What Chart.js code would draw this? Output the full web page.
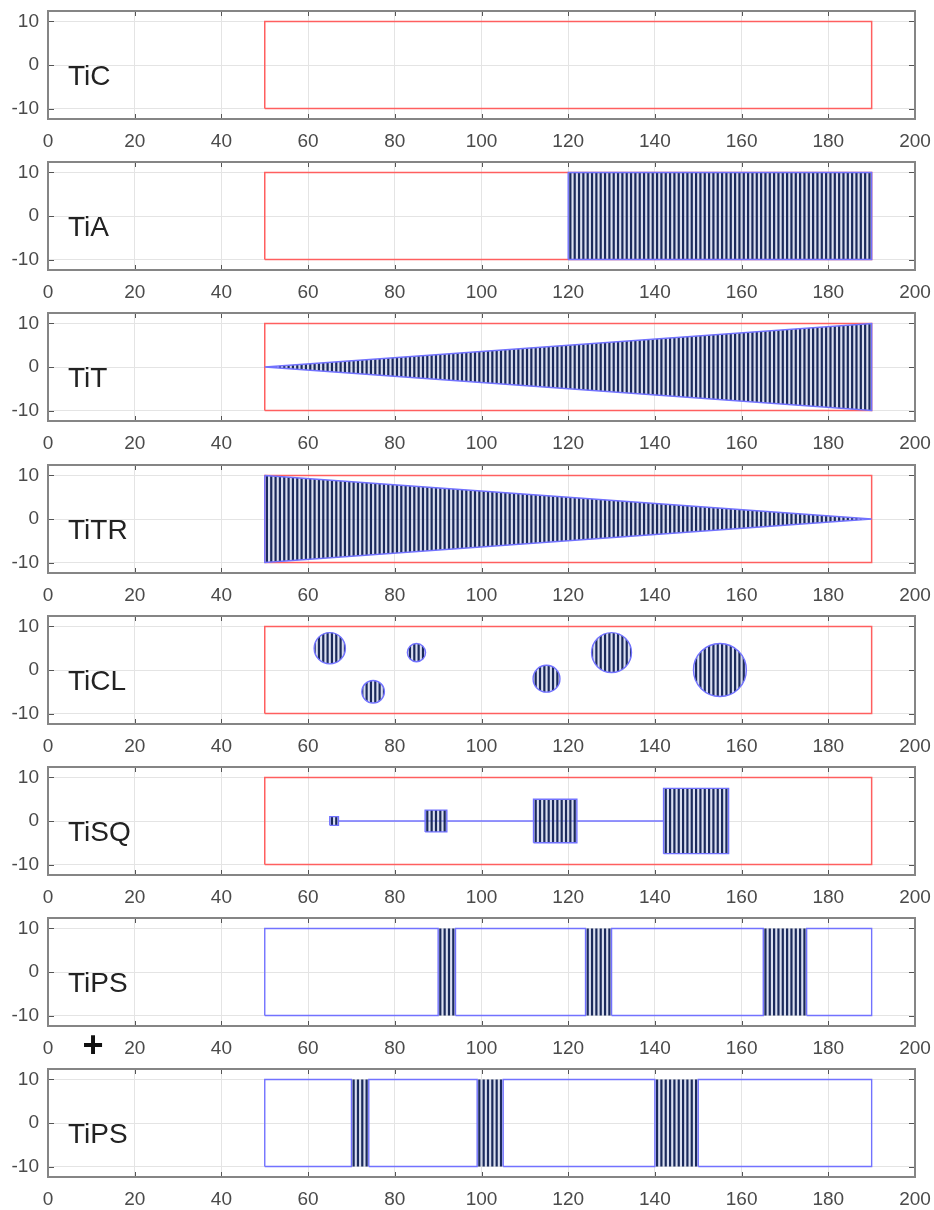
<!DOCTYPE html>
<html>
<head>
<meta charset="utf-8">
<script src="https://cdn.jsdelivr.net/npm/chart.js@4.4.1/dist/chart.umd.min.js"></script>
<style>
  html, body { margin: 0; padding: 0; background: #fff; }
  #wrap { position: relative; width: 934px; height: 1210px; }
  .panel { position: absolute; left: 0; width: 934px; height: 151px; }
</style>
</head>
<body>
<div id="wrap"></div>
<script>
// axis ticks
const xTicks = [0, 20, 40, 60, 80, 100, 120, 140, 160, 180, 200];
const yTicks = [-10, 0, 10];
const panelNames = ['TiC', 'TiA', 'TiT', 'TiTR', 'TiCL', 'TiSQ', 'TiPS', 'TiPS'];

// blank outline
const blankX = [50, 190];
const blankY = [-10, 10];

// TiA machined block
const tiaX = [120, 190];

// TiT / TiTR triangles
const titX = [50, 190, 190, 50];
const titY = [0, 10, -10, 0];
const titrX = [50, 190, 50, 50];
const titrY = [10, 0, -10, 10];

// TiCL circles
const circleX = [65, 75, 85, 115, 130, 155];
const circleY = [5, -5, 4, -2, 4, 0];
const circleR = [3.6, 2.6, 2.1, 3.1, 4.6, 6.1];

// TiSQ squares on the centre line
const squareX = [66, 89.5, 117, 149.5];
const squareHalf = [1, 2.5, 5, 7.5];

// TiPS blocks, the gaps between them are the passes
const ps1Start = [50, 94, 130, 175];
const ps1End = [90, 124, 165, 190];
const ps2Start = [50, 74, 105, 150];
const ps2End = [70, 99, 140, 190];

const RED = { borderColor: '#ff5f5f', borderWidth: 1.5 };
const BLUE = { borderColor: '#7272ff', borderWidth: 1.4 };

function rectPts(x0, x1, y0, y1) {
  return [{ x: x0, y: y0 }, { x: x0, y: y1 }, { x: x1, y: y1 }, { x: x1, y: y0 }, { x: x0, y: y0 }];
}
function polyPts(xs, ys) {
  return xs.map((x, i) => ({ x: x, y: ys[i] }));
}
// several shapes in one dataset, split by a null point
function joinPieces(pieces) {
  const out = [];
  pieces.forEach((p, i) => {
    if (i) out.push({ x: p[0].x, y: null });
    out.push(...p);
  });
  return out;
}
function lineSet(data, style, extra) {
  return Object.assign({ data: data, showLine: true, pointRadius: 0, fill: false, tension: 0 }, style, extra || {});
}
function blankSet() {
  return lineSet(rectPts(blankX[0], blankX[1], blankY[0], blankY[1]), RED);
}
function psSets(starts, ends) {
  const blocks = starts.map((s, i) => rectPts(s, ends[i], -10, 10));
  const gaps = ends.slice(0, -1).map((e, i) => rectPts(e, starts[i + 1], -10, 10));
  return [
    lineSet(joinPieces(blocks), BLUE),
    { data: joinPieces(gaps), showLine: false, pointRadius: 0, hatch: true }
  ];
}

const panelSets = [
  [blankSet()],
  [lineSet(rectPts(tiaX[0], tiaX[1], -10, 10), BLUE, { hatch: true }), blankSet()],
  [lineSet(polyPts(titX, titY), BLUE, { hatch: true }), blankSet()],
  [lineSet(polyPts(titrX, titrY), BLUE, { hatch: true }), blankSet()],
  [{
    data: circleX.map((x, i) => ({ x: x, y: circleY[i], r: circleR[i] })),
    showLine: false,
    hatch: true,
    circles: true,
    pointBorderColor: BLUE.borderColor,
    pointBackgroundColor: 'rgba(0,0,0,0)',
    pointBorderWidth: 1.4,
    pointRadius: ctx => {
      const s = ctx.chart.scales.x;
      return s.getPixelForValue(ctx.raw.r) - s.getPixelForValue(0);
    }
  }, blankSet()],
  [
    lineSet(joinPieces(squareX.map((c, i) => rectPts(c - squareHalf[i], c + squareHalf[i], -squareHalf[i], squareHalf[i]))), BLUE, { hatch: true }),
    lineSet([{ x: squareX[0] + squareHalf[0], y: 0 }, { x: squareX[3] - squareHalf[3], y: 0 }], BLUE),
    blankSet()
  ],
  psSets(ps1Start, ps1End),
  psSets(ps2Start, ps2End)
];

// vertical hatching inside a dataset's shape
const hatchPlugin = {
  id: 'hatch',
  beforeDatasetDraw(chart, args) {
    const ds = chart.data.datasets[args.index];
    if (!ds.hatch) return;
    const ctx = chart.ctx;
    const area = chart.chartArea;
    const xs = chart.scales.x;
    let lo = Infinity, hi = -Infinity, open = false;
    ctx.save();
    ctx.beginPath();
    args.meta.data.forEach(el => {
      if (el.skip) { open = false; return; }
      if (ds.circles) {
        const r = el.options.radius;
        ctx.moveTo(el.x + r, el.y);
        ctx.arc(el.x, el.y, r, 0, Math.PI * 2);
        lo = Math.min(lo, el.x - r);
        hi = Math.max(hi, el.x + r);
      } else {
        if (open) ctx.lineTo(el.x, el.y);
        else { ctx.moveTo(el.x, el.y); open = true; }
        lo = Math.min(lo, el.x);
        hi = Math.max(hi, el.x);
      }
    });
    ctx.clip();
    ctx.fillStyle = 'rgba(188,196,228,0.55)';
    ctx.fillRect(lo, area.top, hi - lo, area.height);
    ctx.strokeStyle = '#1b2a5c';
    ctx.lineWidth = 2.2;
    ctx.beginPath();
    const v0 = Math.floor(xs.getValueForPixel(lo));
    const v1 = xs.getValueForPixel(hi);
    for (let v = v0 + 0.5; v < v1; v += 1) {
      const px = xs.getPixelForValue(v);
      ctx.moveTo(px, area.top);
      ctx.lineTo(px, area.bottom);
    }
    ctx.stroke();
    ctx.restore();
  }
};

// box, inner tick marks and the panel name
const framePlugin = {
  id: 'frame',
  afterDraw(chart, args, opts) {
    const ctx = chart.ctx;
    const a = chart.chartArea;
    const xs = chart.scales.x, ys = chart.scales.y;
    ctx.save();
    ctx.strokeStyle = '#555';
    ctx.lineWidth = 1;
    ctx.beginPath();
    xTicks.forEach(v => {
      const px = Math.round(xs.getPixelForValue(v)) + 0.5;
      ctx.moveTo(px, a.top); ctx.lineTo(px, a.top + 5);
      ctx.moveTo(px, a.bottom); ctx.lineTo(px, a.bottom - 5);
    });
    yTicks.forEach(v => {
      const py = Math.round(ys.getPixelForValue(v)) + 0.5;
      ctx.moveTo(a.left, py); ctx.lineTo(a.left + 6, py);
      ctx.moveTo(a.right, py); ctx.lineTo(a.right - 6, py);
    });
    ctx.stroke();
    ctx.strokeStyle = '#858585';
    ctx.lineWidth = 2;
    ctx.strokeRect(a.left, a.top, a.width, a.height);

    ctx.fillStyle = '#222';
    ctx.font = '28px "Liberation Sans", Arial, sans-serif';
    ctx.textAlign = 'left';
    ctx.textBaseline = 'middle';
    ctx.fillText(opts.name, a.left + 20, ys.getPixelForValue(-2.8));
    if (opts.plus) {
      ctx.fillStyle = '#111';
      ctx.font = 'bold 36px "Liberation Sans", Arial, sans-serif';
      ctx.textAlign = 'center';
      ctx.fillText('+', xs.getPixelForValue(10.4), a.bottom + 21);
    }
    ctx.restore();
  }
};

const tickFont = { family: '"Liberation Sans", Arial, sans-serif', size: 19 };

function makePanel(i) {
  const holder = document.createElement('div');
  holder.className = 'panel';
  holder.style.top = Math.round(i * 151.2) + 'px';
  const canvas = document.createElement('canvas');
  canvas.width = 934;
  canvas.height = 151;
  holder.appendChild(canvas);
  document.getElementById('wrap').appendChild(holder);

  new Chart(canvas, {
    type: 'scatter',
    data: { datasets: panelSets[i] },
    plugins: [hatchPlugin, framePlugin],
    options: {
      responsive: false,
      animation: false,
      events: [],
      layout: { padding: { top: 11, right: 19, left: 0, bottom: 0 } },
      plugins: {
        legend: { display: false },
        tooltip: { enabled: false },
        frame: { name: panelNames[i], plus: i === 6 }
      },
      scales: {
        x: {
          type: 'linear',
          min: 0,
          max: 200,
          afterBuildTicks: s => { s.ticks = xTicks.map(v => ({ value: v })); },
          afterFit: s => { s.height = 32; s.paddingLeft = 0; s.paddingRight = 0; },
          grid: { color: '#e4e4e4', drawTicks: false },
          border: { display: false },
          ticks: { padding: 11, color: '#4a4a4a', font: tickFont, maxRotation: 0, autoSkip: false }
        },
        y: {
          type: 'linear',
          min: -12.4,
          max: 12.4,
          afterBuildTicks: s => { s.ticks = yTicks.map(v => ({ value: v })); },
          afterFit: s => { s.width = 48; s.paddingTop = 0; s.paddingBottom = 0; },
          grid: { color: '#e4e4e4', drawTicks: false },
          border: { display: false },
          ticks: { padding: 9, color: '#4a4a4a', font: tickFont, autoSkip: false }
        }
      }
    }
  });
}

for (let i = 0; i < panelNames.length; i++) makePanel(i);
</script>
</body>
</html>
